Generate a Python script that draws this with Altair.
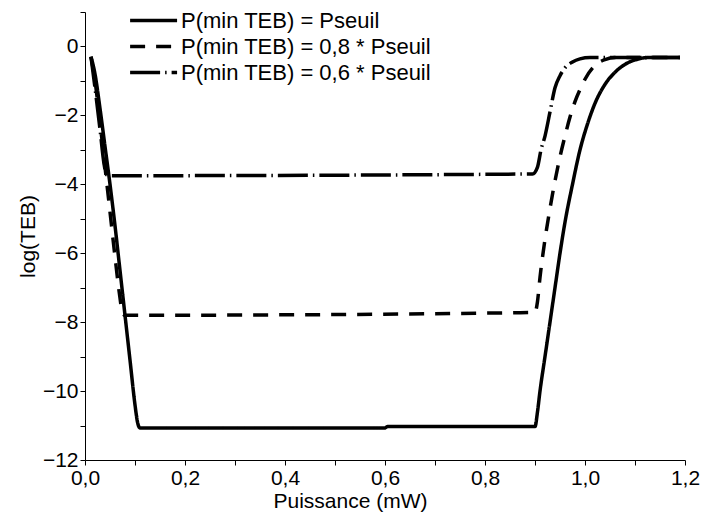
import altair as alt
import pandas as pd

series_names = ["P(min TEB) = Pseuil", "P(min TEB) = 0,8 * Pseuil", "P(min TEB) = 0,6 * Pseuil"]

x_s1 = [0.012, 0.02, 0.03, 0.04, 0.05, 0.06, 0.07, 0.08, 0.09, 0.1, 0.105, 0.11, 0.6, 0.605, 0.9,
        0.905, 0.91, 0.92, 0.93, 0.94, 0.95, 0.96, 0.975, 0.99, 1.005, 1.02, 1.04, 1.06, 1.08, 1.1, 1.13, 1.19]
y_s1 = [-0.3, -0.8, -1.8, -2.9, -4.0, -5.2, -6.5, -7.8, -9.1, -10.4, -10.9, -11.07, -11.07, -11.03, -11.03,
        -10.6, -10.0, -9.0, -8.0, -7.0, -6.0, -5.1, -4.0, -3.0, -2.25, -1.65, -1.1, -0.75, -0.52, -0.39, -0.32, -0.32]

x_s2 = [0.012, 0.02, 0.03, 0.04, 0.05, 0.06, 0.07, 0.075, 0.08, 0.9,
        0.905, 0.91, 0.92, 0.93, 0.94, 0.95, 0.96, 0.97, 0.98, 0.99, 1.0, 1.02, 1.04, 1.06, 1.19]
y_s2 = [-0.3, -1.0, -2.2, -3.5, -4.8, -6.1, -7.3, -7.75, -7.8, -7.72,
        -7.4, -6.7, -5.6, -4.7, -3.9, -3.2, -2.6, -2.05, -1.6, -1.25, -0.95, -0.55, -0.38, -0.32, -0.32]

x_s3 = [0.012, 0.02, 0.03, 0.038, 0.043, 0.05, 0.895,
        0.905, 0.912, 0.92, 0.93, 0.94, 0.95, 0.96, 0.975, 0.99, 1.01, 1.19]
y_s3 = [-0.3, -1.2, -2.4, -3.4, -3.72, -3.75, -3.7,
        -3.5, -3.0, -2.6, -1.9, -1.2, -0.85, -0.62, -0.45, -0.36, -0.32, -0.32]

x_ticks = [round(i * 0.1, 1) for i in range(13)]
y_ticks = list(range(-12, 2))

rows = []
for name, xs, ys in zip(series_names, [x_s1, x_s2, x_s3], [y_s1, y_s2, y_s3]):
    for i, (xv, yv) in enumerate(zip(xs, ys)):
        rows.append({"serie": name, "x": xv, "y": yv, "i": i})
df = pd.DataFrame(rows)

font = "Liberation Sans"

chart = alt.Chart(df).mark_line(strokeWidth=3.5, color="black", strokeCap="butt",
                                interpolate="monotone").encode(
    x=alt.X("x:Q", scale=alt.Scale(domain=[0, 1.2], nice=False, zero=False),
            axis=alt.Axis(title="Puissance (mW)", values=x_ticks, titleX=265,
                          labelExpr="round(datum.value*10) % 2 == 0 ? replace(format(datum.value, '.1f'), '.', ',') : ''",
                          labelOverlap=False, labelFlush=False)),
    y=alt.Y("y:Q", scale=alt.Scale(domain=[-12, 1], nice=False, zero=False),
            axis=alt.Axis(title="log(TEB)", values=y_ticks,
                          labelExpr="abs(datum.value) % 2 == 0 ? format(datum.value, 'd') : ''",
                          labelOverlap=False, labelFlush=False)),
    strokeDash=alt.StrokeDash("serie:N",
                              scale=alt.Scale(domain=series_names, range=[[1, 0], [15, 11], [30, 5, 1.5, 5]]),
                              legend=alt.Legend(title=None, orient="none", legendX=43, legendY=-3,
                                                symbolType="M-1,0H4", symbolSize=353, symbolStrokeWidth=3.5,
                                                symbolStrokeColor="black", labelFontSize=22, labelFont=font,
                                                labelColor="black", labelLimit=400, rowPadding=3,
                                                symbolOffset=0, labelOffset=30)),
    order="i:Q",
).properties(
    width=600, height=448,
    autosize=alt.AutoSizeParams(type="none"),
    padding={"left": 77, "top": 4, "right": 17, "bottom": 55},
).configure_view(stroke=None).configure_axis(
    grid=False, domainColor="black", tickColor="black", domainWidth=1, tickWidth=1, tickSize=5,
    labelFont=font, titleFont=font, labelFontSize=21, titleFontSize=21, labelColor="black",
    titleColor="black", titleFontWeight="normal", labelPadding=2,
).configure_axisX(titlePadding=2).configure_axisY(titlePadding=4)

chart.save("out.html", embed_options={"renderer": "svg", "actions": False})
